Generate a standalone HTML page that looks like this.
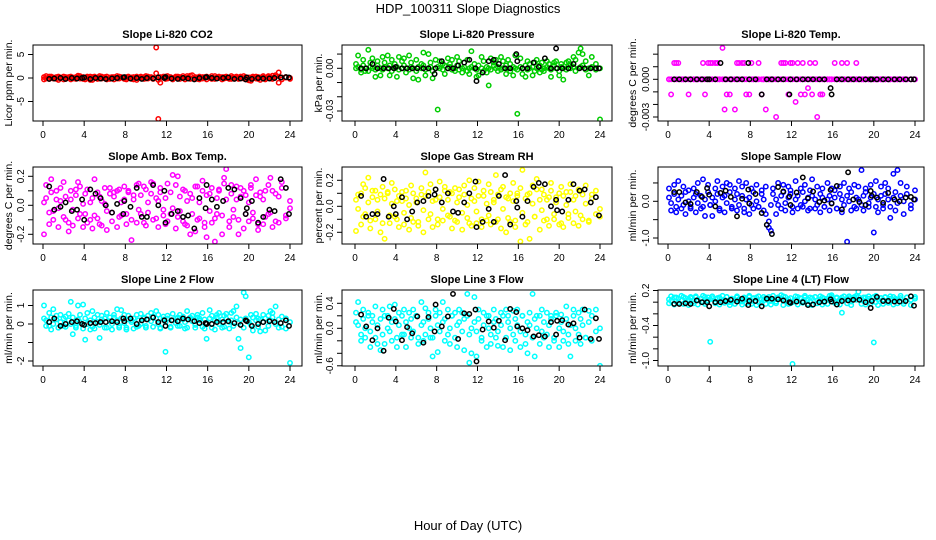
<!DOCTYPE html>
<html><head><meta charset="utf-8">
<style>
html,body{margin:0;padding:0;background:#fff;}
svg{display:block;font-family:"Liberation Sans",Arial,sans-serif;}
</style></head>
<body>
<svg id="chart" width="936" height="540" viewBox="0 0 936 540" xmlns="http://www.w3.org/2000/svg">
<rect width="936" height="540" fill="#fff"/>
<text x="468" y="13" text-anchor="middle" font-size="13">HDP_100311  Slope Diagnostics</text>
<text x="468" y="530" text-anchor="middle" font-size="13">Hour of Day (UTC)</text>
<g id="panels"></g>
</svg>
<script>
// shared hours (x values)
const hours = [0.1,0.3,0.6,0.8,1.0,1.3,1.5,1.7,2.0,2.2,
2.5,2.7,2.9,3.2,3.4,3.6,3.9,4.1,4.3,4.6,
4.8,5.0,5.3,5.5,5.7,6.0,6.2,6.5,6.7,6.9,
7.2,7.4,7.6,7.9,8.1,8.3,8.6,8.8,9.1,9.3,
9.5,9.8,10.0,10.2,10.5,10.7,11.0,11.2,11.4,11.7,
11.9,12.1,12.4,12.6,12.9,13.1,13.3,13.6,13.8,14.0,
14.3,14.5,14.8,15.0,15.2,15.5,15.7,15.9,16.2,16.4,
16.7,16.9,17.1,17.4,17.6,17.8,18.1,18.3,18.5,18.8,
19.0,19.2,19.5,19.7,20.0,20.2,20.4,20.7,20.9,21.1,
21.4,21.6,21.9,22.1,22.3,22.6,22.9,23.2,23.6,24.0];
const hoursBlack = [0.6,1.1,1.7,2.2,2.8,3.3,3.8,4.0,4.6,5.1,5.6,6.1,6.7,7.2,7.8,7.9,8.5,9.1,9.6,10.1,10.7,11.2,11.8,11.9,12.5,13.1,13.6,14.1,14.7,15.2,15.8,15.9,16.4,16.9,17.5,18.0,18.6,19.2,19.7,19.8,20.3,20.9,21.4,22.0,22.5,23.1,23.6,23.9];
const xTicks = [0,4,8,12,16,20,24];

// CO2
const co2A = [0.2,-0.1,0.3,0,0.1,-0.2,0.3,0.1,-0.3,0.2,0,0.3,-0.1,0.2,0.1,0.4,-0.2,0.1,0.3,-0.4,0.2,0,0.1,-0.1,0.3,0.2,-0.3,0.1,0,0.2,-0.1,0.3,0.1,-0.2,0.2,0,0.1,-0.3,0.3,0.1,0,0.2,-0.1,0.3,0.1,-0.2,6.5,-0.4,0.2,0.1,0.3,-0.1,0.2,0,0.1,0.3,-0.2,0.4,0.1,0,0.5,-0.1,0.2,0.1,-0.3,0.2,0,0.3,0.1,-0.2,0.4,0.1,0,0.2,-0.1,0.3,0.1,-0.2,0.2,0,0.1,0.3,-0.1,0.2,-0.5,0.1,0,0.3,-0.2,0.1,0.4,0,0.2,-0.1,0.5,0.3,1.2,0.1,0.2,0];
const co2B = [-0.3,0.4,-0.2,0.3,-0.1,0.2,-0.4,0,0.3,-0.2,0.2,-0.3,0.1,-0.2,0.5,-0.1,0.2,-0.3,0,0.3,-0.4,0.3,-0.2,0.4,-0.1,0,0.3,-0.2,0.2,-0.3,0.4,-0.1,0.2,0,-0.3,0.3,-0.2,0.2,-0.4,0,0.3,-0.2,0.4,-0.1,0.2,0,1.0,-8.7,-1.0,0.3,-0.2,0.4,0,-0.3,0.3,-0.1,0.2,0,-0.3,0.4,-0.2,0.6,0,-0.2,0.3,-0.1,0.2,-0.3,0,0.4,-0.2,0,0.3,-0.3,0.2,0,-0.2,0.4,-0.1,0.3,-0.2,0,0.4,-0.3,0.1,-0.6,0.3,-0.1,0.2,-0.4,0.1,-0.3,0.4,0.2,-0.2,0.6,-1.0,-0.3,0.1,-0.2];
const co2Black = [-0.2,-0.1,0,-0.2,0,-0.1,0,0.1,-0.2,0,-0.1,-0.2,-0.1,0,0.1,0.2,-0.1,0,-0.2,0,-0.1,0.1,0,0.2,-0.1,-0.2,0,-0.1,-0.3,0,0.1,0.2,0,-0.1,0,0.1,-0.2,-0.1,-0.3,0.1,-0.2,0,-0.1,-0.1,0,0.1,0.2,0.1];

// Pressure
const presA = [0,.001,-.001,.002,0,-.002,.001,0,-.001,.002,0,-.001,.001,0,.002,-.002,0,.001,-.001,0,.002,0,-.001,.001,0,-.002,.001,0,.002,-.001,0,.001,-.002,0,.001,0,-.001,.002,0,.001,-.001,0,.002,-.001,0,.001,-.002,0,.001,0,-.001,.002,0,-.002,.001,0,-.001,.002,0,.001,-.001,0,.002,0,-.002,.001,0,-.001,.001,0,.002,-.001,0,.001,-.002,0,.002,-.001,0,.001,0,-.001,.002,0,-.002,.001,0,-.001,.002,0,.001,-.002,0,.001,.002,-.001,0,.001,-.001,0];
const presB = [.003,.009,-.003,.006,-.002,.013,.004,.007,-.006,.005,-.005,.008,.004,.009,-.005,.006,.003,-.006,.008,.005,.007,-.003,.009,.004,-.007,.006,-.008,.003,.011,-.005,.010,.004,-.007,.006,-.029,.005,.003,-.004,.007,.003,.006,-.002,.008,.005,-.003,.004,.006,-.004,.012,.003,-.006,-.005,.008,.005,-.003,-.012,.007,.004,.006,-.002,.008,.005,-.004,.006,.003,-.005,.009,-.032,.007,-.004,-.006,.005,.003,-.005,.004,.006,-.003,.004,-.002,.005,.003,-.006,.004,.005,-.005,.003,-.008,.004,.005,.003,.008,.006,.011,.014,.010,.005,-.005,.008,.003,-.036];
const presBlack = [0,0,.003,0,0,0,0,.001,0,0,0,0,0,0,-.004,0,.005,0,0,.002,.004,.006,0,-.009,-.003,.005,.006,.003,0,0,.010,.005,0,0,.004,.001,.007,0,.014,0,0,0,.003,0,0,0,0,0];

// Li-820 temp
const tempA = [0,0,0,0,0,0,0,0,0,0,0,0,0,0,0,0,0,0,0,0,0,0,0,0,0,0,0,0,0,0,0,0,0,0,0,0,0,0,0,0,0,0,0,0,0,0,0,0,0,0,0,0,0,0,0,0,0,0,0,0,0,0,0,0,0,0,0,0,0,0,0,0,0,0,0,0,0,0,0,0,0,0,0,0,0,0,0,0,0,0,0,0,0,0,0,0,0,0,0,0];
const tempB = [0,-.0012,.0013,.0013,.0013,0,0,0,-.0012,0,0,0,0,0,.0013,-.0012,.0013,.0013,.0013,.0013,.0013,0,.0025,-.0024,-.0012,-.0012,0,-.0024,.0013,.0013,.0013,.0013,-.0012,-.0012,.0013,0,0,.0013,-.0012,0,-.0024,0,0,0,-.003,0,.0013,.0013,.0013,-.0012,.0013,.0013,-.0018,.0013,-.0012,.0013,-.0012,-.0007,.0013,-.0012,.0013,-.003,-.0012,-.0012,0,0,0,0,.0013,0,0,.0013,0,.0013,0,0,0,.0013,0,0,0,0,0,0,0,0,0,0,0,0,0,0,0,0,0,0,0,0,0,0];
const tempBlack = [0,0,0,0,0,0,0,0,0,.0013,0,0,0,0,.0013,0,0,-.0012,0,0,0,0,-.0012,0,0,0,0,0,0,0,-.0007,-.0012,0,0,0,0,0,0,0,0,0,0,0,0,0,0,0,0];

// Amb box temp
const ambA = [0.02,0.14,-0.05,0.09,-0.1,0.04,-0.02,0.12,-0.08,0.06,-0.12,0.1,-0.03,0.07,-0.09,0.13,0.01,-0.06,0.11,-0.1,0.05,-0.07,0.09,-0.13,0.03,0.12,-0.04,0.08,-0.11,0.06,0.1,-0.08,0.02,0.13,-0.06,0.09,-0.1,0.04,0.14,-0.03,0.07,-0.12,0.11,-0.05,0.08,0.15,-0.09,0.03,0.12,-0.07,0.05,-0.11,0.09,-0.02,0.14,-0.08,0.06,0.11,-0.13,0.03,0.08,-0.06,0.13,-0.1,0.02,0.1,-0.12,0.07,-0.04,0.12,-0.09,0.05,0.11,-0.07,0.15,0.04,-0.11,0.08,-0.03,0.13,-0.1,0.06,0.1,-0.06,0.02,0.12,-0.09,0.07,-0.13,0.09,0.04,-0.08,0.14,-0.05,0.1,-0.11,0.06,0.12,-0.07,0.03];
const ambB = [-0.2,0.05,-0.13,0.18,-0.04,0.1,-0.15,0.03,0.16,-0.1,-0.18,0.04,-0.14,0.11,0.16,-0.06,-0.15,0.08,-0.12,0.02,-0.16,0.18,-0.09,0.06,-0.14,0.01,-0.17,0.12,-0.05,0.09,-0.15,0.11,-0.07,0.04,-0.13,0.1,-0.24,0.07,-0.12,0.15,-0.06,0.13,-0.14,0.02,0.16,-0.1,0.05,-0.15,0.09,-0.03,-0.13,0.15,-0.06,0.21,-0.16,0.2,-0.04,-0.11,0.1,-0.14,-0.2,0.05,-0.18,0.13,-0.09,0.17,-0.15,-0.22,0.08,-0.12,-0.25,-0.06,0.1,-0.2,0.19,0.25,-0.15,0.14,-0.08,0.04,-0.2,0.12,-0.16,0.07,-0.11,0.14,-0.05,0.18,-0.17,0.06,-0.13,0.1,-0.06,0.19,-0.15,0.08,-0.12,0.16,-0.09,-0.02];
const ambBlack = [0.13,-0.03,-0.01,0.02,-0.04,-0.03,0.04,-0.1,0.11,0.08,0.05,0,-0.05,0.01,-0.06,0.03,-0.01,0.12,-0.08,-0.08,0.14,0,0.1,-0.12,-0.06,-0.04,-0.08,-0.07,-0.16,0.05,-0.02,0.14,0.04,-0.01,0.03,0.12,0.11,0.05,-0.06,-0.02,0.03,-0.12,-0.08,-0.03,-0.04,0.18,0.12,-0.06];

// Gas stream RH
const rhA = [0.05,-0.02,0.1,-0.08,0.14,0.03,-0.11,0.07,0.12,-0.04,0.09,-0.13,0.06,0.11,-0.07,0.02,0.13,-0.1,0.08,0.04,-0.05,0.12,0.01,-0.09,0.1,0.06,-0.12,0.14,-0.03,0.08,0.11,-0.06,0.04,0.13,-0.1,0.07,-0.02,0.12,0.05,-0.08,0.1,-0.11,0.03,0.13,-0.05,0.09,0.01,-0.13,0.06,0.14,-0.04,0.08,-0.1,0.12,0.02,-0.07,0.11,0.05,-0.12,0.09,0.13,-0.02,0.07,-0.09,0.1,0.04,-0.11,0.08,0.14,-0.05,0.06,-0.12,0.1,0.02,-0.08,0.13,0.05,-0.03,0.09,-0.1,0.07,0.12,-0.06,0.03,0.1,-0.13,0.08,0.01,-0.09,0.11,0.05,-0.04,0.13,-0.07,0.09,0.02,-0.11,0.06,0.12,-0.02];
const rhB = [-0.19,0.09,-0.14,0.17,-0.06,0.22,-0.17,0.12,-0.1,0.05,-0.2,0.15,-0.25,0.1,-0.13,0.18,-0.08,0.04,-0.16,0.11,-0.14,0.06,-0.18,0.16,-0.12,0.03,-0.15,0.09,-0.2,0.26,-0.1,0.17,-0.16,0.05,-0.14,0.19,-0.11,0.15,-0.07,0.11,-0.17,0.14,-0.12,0.07,-0.18,0.16,-0.09,0.2,-0.15,0.04,-0.13,0.19,-0.16,0.08,-0.11,0.17,-0.14,0.03,0.24,-0.1,-0.17,0.15,-0.2,0.06,-0.12,0.18,-0.16,0.1,-0.27,0.28,-0.14,0.09,-0.25,0.16,-0.08,0.21,-0.18,0.13,-0.11,0.05,-0.15,0.18,-0.1,0.07,-0.14,0.15,-0.16,0.11,-0.06,0.17,-0.13,0.08,-0.15,0.12,-0.1,0.16,-0.12,0.09,-0.06,-0.08];
const rhBlack = [0.08,-0.08,-0.06,-0.06,0.21,-0.08,0,-0.06,0.07,-0.1,-0.04,0.03,0.04,0.08,0.09,0.13,0.03,0.1,-0.04,-0.05,0.03,0.1,0.19,-0.16,-0.12,-0.02,-0.12,0.08,0.24,-0.14,0.04,-0.01,-0.08,0.04,0.15,0.18,0.17,0,0.05,-0.03,-0.04,0.05,0.17,0.12,0.13,0.03,0.07,-0.07];

// Sample flow
const sfA = [0.1,-0.05,0.2,-0.15,0.05,0.15,-0.1,0.25,0,-0.2,0.1,0.2,-0.05,0.15,-0.15,0.05,0.25,-0.1,0.1,0,0.2,-0.2,0.1,0.15,-0.05,0.25,-0.15,0.05,0.2,-0.1,0.15,-0.2,0.05,0.1,-0.1,0.25,0,-0.15,0.2,0.05,-0.35,-0.55,-0.1,0.2,0.05,-0.1,0.15,0.25,-0.05,0.1,0.2,-0.15,0.05,0.15,-0.1,0.25,0,0.1,-0.2,0.15,0.05,-0.1,0.2,0.1,-0.15,0.05,0.15,-0.05,0.1,-0.2,0.2,0.05,-0.1,0.15,0,0.25,-0.15,0.1,0.05,-0.1,0.15,0.25,-0.05,0.1,0.2,-0.15,0.05,0.15,-0.1,0.2,0.05,-0.15,0.1,0.25,-0.05,0.15,0,0.2,-0.1,0.05];
const sfB = [0.35,-0.25,0.45,-0.3,0.55,-0.2,0.4,-0.35,0.3,-0.15,0.35,-0.3,0.5,-0.2,0.6,-0.4,0.45,-0.1,-0.4,0.35,0.55,-0.25,0.4,-0.3,0.5,0.45,-0.2,0.35,-0.25,0.55,0.4,-0.3,0.5,-0.35,0.35,-0.2,0.45,-0.15,0.3,-0.25,0.4,-0.72,-0.8,0.35,-0.35,0.5,-0.2,0.45,-0.25,0.4,0.3,-0.3,0.55,-0.2,0.35,-0.15,0.45,-0.25,0.3,0.6,-0.2,0.4,-0.3,0.35,-0.15,0.5,-0.25,0.35,0.3,-0.2,0.4,-0.3,0.5,-1.1,0.35,-0.25,0.45,-0.2,0.4,0.85,-0.25,0.35,-0.15,0.45,-0.85,0.55,-0.3,0.4,-0.2,0.5,0.35,-0.45,0.75,-0.25,0.85,0.5,-0.35,0.4,-0.2,0.3];
const sfBlack = [0.25,0.25,-0.03,-0.07,0.25,0.12,0.36,0.18,-0.14,0.23,0.29,0.12,-0.41,0.07,0.32,-0.06,0.2,-0.32,-0.64,-0.89,0.39,0.27,0.13,-0.1,0.24,0.65,0.08,0.27,-0.02,0.02,0.31,-0.06,0.42,-0.22,0.79,0.05,-0.02,-0.1,0.28,0.15,0.1,-0.04,0.23,0.05,0,0.1,0.12,0.05];

// Line 2 flow
const l2A = [0.3,0.2,-0.1,0.35,0,0.25,-0.2,0.1,0.3,-0.15,0.2,0,0.35,-0.1,0.25,0.1,-0.25,0.3,0,0.2,-0.15,0.35,0.1,-0.05,0.25,0.3,-0.2,0.15,0,0.35,0.2,-0.1,0.3,0.05,-0.2,0.25,0.1,0.3,-0.15,0.2,0,0.35,-0.1,0.25,0.15,0.4,0.3,0,-0.2,0.25,0.1,0.3,-0.15,0.2,0.05,0.35,-0.1,0.25,0.1,-0.2,0.3,0.15,-0.05,0.35,0.2,-0.15,0.25,0.05,0.3,-0.2,0.2,0.35,0,0.25,-0.15,0.3,0.1,0.2,-0.1,0.35,0.05,0.25,-0.2,0.3,0.1,-0.05,0.35,0.2,-0.15,0.25,0.1,0.3,-0.1,0.2,0.35,0,0.25,-0.15,0.3,0.1];
const l2B = [1.0,-0.1,0.6,-0.3,0.8,0.45,-0.2,0.5,-0.1,0.4,0.55,1.2,-0.55,-0.2,1.0,0.5,1.05,-0.85,0.6,-0.3,0.7,-0.25,0.5,-0.75,0.45,-0.2,0.6,0.35,-0.3,0.5,0.8,-0.2,0.75,0.5,-0.3,0.45,0.2,-0.25,0.5,-0.1,0.55,0.3,-0.2,0.45,0.6,-0.15,0.7,0.5,-0.25,0.4,-1.5,0.45,-0.2,0.55,0.3,-0.1,0.5,0.4,-0.25,0.7,0.35,0.45,-0.2,0.5,0.3,0.6,-0.25,-0.8,0.75,0.45,-0.3,0.5,0.6,-0.2,0.45,0.55,-0.25,0.6,0.7,0.95,-0.8,-1.3,1.7,1.5,-1.8,0.5,-0.35,0.55,0.3,-0.4,0.5,-0.35,0.45,0.7,0.6,0.95,-0.2,0.4,-0.25,-2.1];
const l2Black = [0.1,0.3,-0.1,0,0.1,0.15,0,-0.05,0.05,0.05,0.1,0.1,0.15,0.1,0.3,0.15,0.3,0,0.2,0.25,0.35,0.1,0.2,-0.1,0.2,0.15,0.3,0.25,0.15,0.05,0.05,0,0,0.1,0.1,0.15,0.05,-0.05,0.2,0.15,-0.1,0,0.1,0.15,0.1,0.05,0.2,-0.1];

// Line 3 flow
const l3A = [0.1,0.05,-0.1,0.15,0,0.2,-0.05,0.1,-0.15,0.05,0.15,-0.1,0.2,0,-0.05,0.1,0.15,-0.15,0.05,0.2,-0.1,0.1,0,0.15,-0.05,0.2,-0.15,0.05,0.1,-0.1,0.15,0,-0.15,0.2,0.05,-0.05,0.1,0.15,-0.1,0,0.2,-0.15,0.05,0.1,-0.05,0.15,0.2,-0.1,0,0.1,-0.05,0.15,-0.15,0.05,0.2,0,-0.1,0.1,0.15,-0.05,0.05,0.2,-0.15,0.1,0,-0.1,0.15,0.05,-0.05,0.2,-0.1,0.1,0.05,-0.15,0.15,0,0.2,-0.05,0.1,-0.1,0.05,0.15,-0.15,0.2,0,0.1,-0.05,0.15,-0.1,0.05,0.2,0,-0.1,0.15,0.05,-0.15,0.1,0.2,-0.05,0];
const l3B = [0.25,0.42,-0.2,0.3,-0.15,0.25,-0.3,0.2,0.35,-0.25,-0.35,0.3,-0.25,0.2,0.35,-0.2,0.38,-0.3,0.25,-0.1,0.3,-0.3,0.25,-0.15,0.3,0.2,-0.25,0.42,-0.2,0.32,0.25,-0.15,-0.45,0.3,-0.38,0.25,0.42,-0.2,0.3,-0.25,0.2,0.25,-0.3,0.3,0.25,-0.35,0.55,-0.55,-0.4,0.5,-0.45,0.3,-0.2,0.25,-0.3,0.2,-0.25,0.3,-0.15,-0.28,0.25,-0.3,0.3,0.2,-0.35,0.28,-0.2,0.3,-0.3,0.2,-0.25,-0.4,0.25,0.55,-0.45,0.2,-0.25,0.3,-0.15,0.25,-0.3,0.2,-0.2,0.25,-0.3,0.22,-0.2,0.35,-0.25,-0.45,0.3,-0.2,0.25,-0.25,0.3,-0.15,0.28,-0.2,0.3,-0.6];
const l3Black = [0.22,0.03,-0.19,0,-0.36,0.17,0.31,0.11,-0.19,0.02,-0.08,0.19,-0.23,0.18,-0.05,0.38,0.03,0.19,0.55,-0.17,0.24,0.23,0.3,-0.53,-0.02,0.11,0.01,0.12,-0.19,0.31,0.26,0.03,0,-0.03,-0.13,-0.11,-0.13,0.1,-0.1,0.12,0.13,0.06,0.08,-0.15,0.3,-0.17,0.16,-0.17];

// Line 4 (LT) flow
const l4A = [0.05,0.02,0.08,0.01,0.06,0.03,0.09,0,0.05,0.07,0.02,0.08,0.04,0.06,0,0.09,0.03,0.05,0.07,0.01,0.06,0.08,0.02,0.04,0.09,0,0.06,0.03,0.08,0.05,0.01,0.07,0.04,0.09,0.02,0.06,0.08,0,0.05,0.03,0.07,0.09,0.02,0.05,0.01,0.08,0.06,0.1,0.03,0.05,0.07,0,0.04,0.09,0.06,0.02,0.08,0.05,0.01,0.07,0.09,0.03,0.05,0.08,0,0.06,0.04,0.09,0.02,0.07,0.05,0.08,0.03,0.06,0.1,0.01,0.07,0.04,0.09,0.05,0.02,0.08,0.06,0.03,0.09,0,0.05,0.07,0.04,0.08,0.02,0.06,0.09,0.03,0.05,0.07,0.01,0.08,0.04,0.06];
const l4B = [-0.02,0.1,-0.04,0.08,-0.01,0.11,-0.03,0.07,-0.05,0.09,-0.02,0.1,-0.04,0.06,0.11,-0.03,0.08,-0.68,0.1,-0.02,0.07,-0.04,0.11,-0.01,0.09,-0.05,0.06,-0.03,0.1,0.02,-0.04,0.08,-0.02,0.11,-0.03,0.07,-0.05,0.1,-0.01,0.09,-0.03,0.06,-0.04,0.11,-0.02,0.08,0.12,-0.05,0.09,-0.03,-0.02,-1.06,0.1,-0.04,0.07,-0.01,0.11,-0.03,0.08,-0.05,0.09,-0.02,0.1,-0.04,0.06,-0.03,0.11,0.12,-0.01,0.08,-0.04,-0.18,0.1,-0.02,0.07,-0.05,0.09,0.11,0.18,-0.03,0.08,-0.04,0.1,-0.02,-0.69,0.11,-0.05,0.07,-0.03,0.09,-0.01,0.1,-0.04,0.06,-0.02,0.11,-0.03,0.08,-0.05,0.09];
const l4Black = [-0.03,-0.03,-0.02,-0.03,0.03,0,0,-0.07,0,0,0.02,0.04,0.01,0.06,-0.05,0.02,0.02,-0.07,0.06,0.06,0.05,0.03,0,-0.01,0.01,0,-0.05,-0.04,0,0.01,0.05,0.01,-0.04,0.02,0.03,0.04,0.04,0,-0.1,0.02,0.09,0.02,0.02,0.01,0.01,0.02,0.1,-0.06];

const cols = [{l:33,r:302,x0:43,x1:290,yl:9},{l:342,r:612,x0:355,x1:600,yl:319},{l:658,r:924,x0:668,x1:915,yl:633}];
const rows = [{t:45,b:121},{t:167,b:244},{t:290,b:366}];

const panels = [
 {name:'co2',title:'Slope Li-820 CO2',ylab:'Licor ppm per min.',color:'#ff0000',a:co2A,b:co2B,k:co2Black,c:0,r:0,ref:[0,78,5,54.5],ticks:[-5,0,5],labels:{'-5':'-5','0':'0','5':'5'}},
 {name:'pressure',title:'Slope Li-820 Pressure',ylab:'kPa per min.',color:'#00cd00',a:presA,b:presB,k:presBlack,c:1,r:0,ref:[0,68.3,-0.03,111],ticks:[-0.03,-0.02,-0.01,0,0.01],labels:{'0':'0.00','-0.03':'-0.03'}},
 {name:'licor-temp',title:'Slope Li-820 Temp.',ylab:'degrees C per min.',color:'#ff00ff',a:tempA,b:tempB,k:tempBlack,c:2,r:0,ref:[0,79.3,-0.003,117],ticks:[-0.003,-0.002,-0.001,0,0.001,0.002],labels:{'0':'0.000','-0.003':'-0.003'}},
 {name:'amb-box-temp',title:'Slope Amb. Box Temp.',ylab:'degrees C per min.',color:'#ff00ff',a:ambA,b:ambB,k:ambBlack,c:0,r:1,ref:[0,205.3,0.2,176.3],ticks:[-0.2,-0.1,0,0.1,0.2],labels:{'-0.2':'-0.2','0':'0.0','0.2':'0.2'}},
 {name:'gas-stream-rh',title:'Slope Gas Stream RH',ylab:'percent per min.',color:'#ffff00',a:rhA,b:rhB,k:rhBlack,c:1,r:1,ref:[0,206.3,0.2,180.3],ticks:[-0.2,-0.1,0,0.1,0.2],labels:{'-0.2':'-0.2','0':'0.0','0.2':'0.2'}},
 {name:'sample-flow',title:'Slope Sample Flow',ylab:'ml/min per min.',color:'#0000ff',a:sfA,b:sfB,k:sfBlack,c:2,r:1,ref:[0,201.3,-1,238],ticks:[-1,-0.5,0,0.5],labels:{'-1':'-1.0','0':'0.0'}},
 {name:'line2-flow',title:'Slope Line 2 Flow',ylab:'ml/min per min.',color:'#00ffff',a:l2A,b:l2B,k:l2Black,c:0,r:2,ref:[0,324,-2,361],ticks:[-2,-1,0,1],labels:{'-2':'-2','0':'0','1':'1'}},
 {name:'line3-flow',title:'Slope Line 3 Flow',ylab:'ml/min per min.',color:'#00ffff',a:l3A,b:l3B,k:l3Black,c:1,r:2,ref:[0,328.3,0.4,303.3],ticks:[-0.6,-0.4,-0.2,0,0.2,0.4],labels:{'-0.6':'-0.6','0':'0.0','0.4':'0.4'}},
 {name:'line4-flow',title:'Slope Line 4 (LT) Flow',ylab:'ml/min per min.',color:'#00ffff',a:l4A,b:l4B,k:l4Black,c:2,r:2,ref:[0.2,290.5,-1,360.5],ticks:[-1,-0.8,-0.6,-0.4,-0.2,0,0.2],labels:{'-1':'-1.0','-0.4':'-0.4','0.2':'0.2'}}
];

const NS='http://www.w3.org/2000/svg';
const root=document.getElementById('panels');
function mk(tag,attrs,parent){const e=document.createElementNS(NS,tag);for(const k in attrs)e.setAttribute(k,attrs[k]);parent.appendChild(e);return e;}

panels.forEach(p=>{
  const C=cols[p.c], R=rows[p.r];
  const xs=v=>C.x0+(v/24)*(C.x1-C.x0);
  const [v0,p0,v1,p1]=p.ref;
  const ys=v=>p0+(v-v0)*(p1-p0)/(v1-v0);
  const g=mk('g',{},root);
  
  
  const clipId='clip-'+p.name;
  const cp=mk('clipPath',{id:clipId},g);
  mk('rect',{x:C.l,y:R.t,width:C.r-C.l,height:R.b-R.t},cp);
  const pts=mk('g',{'clip-path':'url(#'+clipId+')'},g);
  
  
  [p.a,p.b].forEach(arr=>{
    arr.forEach((v,i)=>{
      const c=mk('circle',{cx:xs(hours[i]).toFixed(1),cy:ys(v).toFixed(1),r:2.2,fill:'none',stroke:p.color,'stroke-width':1.5},pts);
      
      
    });
  });
  p.k.forEach((v,i)=>{
    const c=mk('circle',{cx:xs(hoursBlack[i]).toFixed(1),cy:ys(v).toFixed(1),r:2.2,fill:'none',stroke:'#000','stroke-width':1.5},pts);
    
    
  });
  const box=mk('rect',{x:C.l,y:R.t,width:C.r-C.l,height:R.b-R.t,fill:'none',stroke:'#000','stroke-width':1},g);
  
  
  const t=mk('text',{x:(C.l+C.r)/2,y:R.t-7,'text-anchor':'middle','font-size':11,'font-weight':'bold'},g);
  t.textContent=p.title;
  
  
  const xa=mk('g',{},g);
  
  
  xTicks.forEach(v=>{
    const x=xs(v);
    mk('line',{x1:x,x2:x,y1:R.b,y2:R.b+5,stroke:'#000','stroke-width':1},xa);
    const tx=mk('text',{x:x,y:R.b+17,'text-anchor':'middle','font-size':10},xa);
    tx.textContent=String(v);
    
    
  });
  const ya=mk('g',{},g);
  
  
  p.ticks.forEach(v=>{
    const y=ys(v);
    mk('line',{x1:C.l-5,x2:C.l,y1:y,y2:y,stroke:'#000','stroke-width':1},ya);
    const key=String(v);
    if(p.labels[key]!==undefined){
      const lx=C.l-9;
      const ty=mk('text',{x:lx,y:y,'text-anchor':'middle','font-size':10,transform:'rotate(-90 '+lx+' '+y+')'},ya);
      ty.textContent=p.labels[key];
      
      
    }
  });
  const cy=(R.t+R.b)/2;
  const yl=mk('text',{x:C.yl,y:cy,'text-anchor':'middle','font-size':10.5,transform:'rotate(-90 '+C.yl+' '+cy+')','dominant-baseline':'central'},g);
  yl.textContent=p.ylab;
  
  
});
</script>
</body></html>
